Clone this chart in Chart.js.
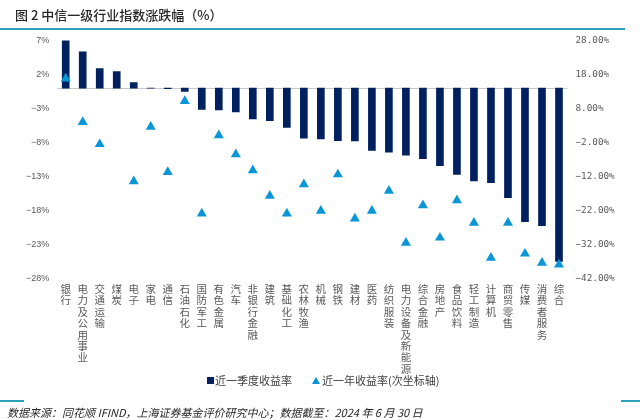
<!DOCTYPE html>
<html><head><meta charset="utf-8">
<script src="https://cdn.jsdelivr.net/npm/chart.js@4.4.1/dist/chart.umd.min.js"></script>
<style>
html,body{margin:0;padding:0;background:#fff;}
#wrap{position:relative;width:640px;height:420px;overflow:hidden;font-family:"Noto Sans CJK SC",sans-serif;}
#cv{position:absolute;left:0;top:0;}
#title{position:absolute;left:15px;top:6px;font-size:13px;line-height:18px;color:#262626;white-space:nowrap;font-weight:500;}
#tline{position:absolute;left:0;top:28px;width:625px;height:1.5px;background:#2aa3b8;}
.bl{position:absolute;top:400px;height:1.5px;background:#2aa3b8;}
#legend{position:absolute;top:372px;left:207px;height:16px;display:flex;align-items:center;font-size:11px;color:#404040;white-space:nowrap;}
#legend .sq{display:inline-block;width:7px;height:7px;background:#002060;margin-right:1px;}
#legend .tri{display:inline-block;width:0;height:0;border-left:4px solid transparent;border-right:4px solid transparent;border-bottom:7px solid #0a96d6;margin-left:20px;margin-right:2px;}
#source{position:absolute;left:7px;top:405px;font-size:11px;line-height:15px;color:#262626;font-style:italic;white-space:nowrap;}
</style></head>
<body>
<div id="wrap">
<canvas id="cv" width="640" height="420"></canvas>
<div id="title">图 2 中信一级行业指数涨跌幅（%）</div>
<div id="tline"></div>
<div id="legend"><span class="sq"></span><span>近一季度收益率</span><span class="tri"></span><span>近一年收益率(次坐标轴)</span></div>
<div class="bl" style="left:0;width:24px"></div>
<div class="bl" style="left:621px;width:19px"></div>
<div id="source">数据来源：同花顺 IFIND，上海证券基金评价研究中心；数据截至：2024 年 6 月 30 日</div>
</div>
<script>
const categories = ['银行','电力及公用事业','交通运输','煤炭','电子','家电','通信','石油石化','国防军工','有色金属','汽车','非银行金融','建筑','基础化工','农林牧渔','机械','钢铁','建材','医药','纺织服装','电力设备及新能源','综合金融','房地产','食品饮料','轻工制造','计算机','商贸零售','传媒','消费者服务','综合'];
const quarterReturn = [7.2, 5.35, 2.86, 2.42, 0.8, 0.0, -0.1, -0.5, -3.12, -3.22, -3.5, -4.54, -4.79, -5.77, -7.38, -7.49, -7.73, -7.78, -9.15, -9.44, -9.88, -10.38, -11.41, -12.68, -13.66, -13.91, -16.12, -19.65, -20.24, -25.5];
const yearReturn = [16.8, 4.0, -2.5, 31.0, -13.4, 2.6, -10.7, 10.2, -22.9, 0.1, -5.5, -10.2, -17.7, -22.9, -14.3, -22.1, -11.4, -24.4, -22.1, -16.2, -31.5, -20.5, -30.0, -19.0, -25.6, -35.9, -25.6, -34.7, -37.4, -37.9];
const leftAxis = {min: -28, max: 7, step: 5};
const rightAxis = {min: -42, max: 28, step: 10};

const zeroLine = {
  id: 'zeroLine',
  beforeDatasetsDraw(chart) {
    const ctx = chart.ctx, a = chart.chartArea;
    const y = Math.round(chart.scales.y.getPixelForValue(0)) + 0.5;
    ctx.save();
    ctx.strokeStyle = '#c8c8c8';
    ctx.lineWidth = 1;
    ctx.beginPath();
    ctx.moveTo(a.left, y);
    ctx.lineTo(a.right, y);
    ctx.stroke();
    ctx.restore();
  }
};
const neg = v => (v < 0 ? '\u2212' : '');
new Chart(document.getElementById('cv'), {
  type: 'bar',
  data: {
    labels: categories.map(c => c.split('')),
    datasets: [
      {type: 'line', label: '近一年收益率(次坐标轴)', data: yearReturn, yAxisID: 'y1', showLine: false,
       pointStyle: 'triangle', pointRadius: 5.8, pointHoverRadius: 5.8, pointBackgroundColor: '#0a96d6',
       pointBorderColor: '#0a96d6', pointBorderWidth: 0, order: 0, clip: 0},
      {type: 'bar', label: '近一季度收益率', data: quarterReturn, yAxisID: 'y', backgroundColor: '#002060',
       barThickness: 7, order: 1}
    ]
  },
  options: {
    responsive: false,
    animation: false,
    devicePixelRatio: 1,
    layout: {padding: {top: 40.5, left: 0, right: 0, bottom: 0}},
    plugins: {legend: {display: false}, tooltip: {enabled: false}},
    scales: {
      x: {
        grid: {display: false, drawTicks: false}, border: {display: false},
        ticks: {autoSkip: false, maxRotation: 0, minRotation: 0, padding: 5, color: '#595959',
                font: {family: '"Noto Sans CJK SC"', size: 10.5, lineHeight: 1.08}},
        afterFit(s) { s.height = 141.5; }
      },
      y: {
        position: 'left', min: leftAxis.min, max: leftAxis.max,
        grid: {display: false, drawTicks: false}, border: {display: false},
        ticks: {stepSize: leftAxis.step, padding: 8, color: '#595959',
                font: {family: '"Liberation Sans"', size: 9},
                callback: v => neg(v) + Math.abs(v) + '%'},
        afterFit(s) { s.width = 57.2; }
      },
      y1: {
        position: 'right', min: rightAxis.min, max: rightAxis.max,
        grid: {display: false, drawTicks: false}, border: {display: false},
        ticks: {stepSize: rightAxis.step, padding: 8, color: '#595959',
                font: {family: '"DejaVu Sans Mono"', size: 9.3},
                callback: v => neg(v) + Math.abs(v).toFixed(2) + '%'},
        afterFit(s) { s.width = 72.5; }
      }
    }
  },
  plugins: [zeroLine]
});
</script>
</body></html>
